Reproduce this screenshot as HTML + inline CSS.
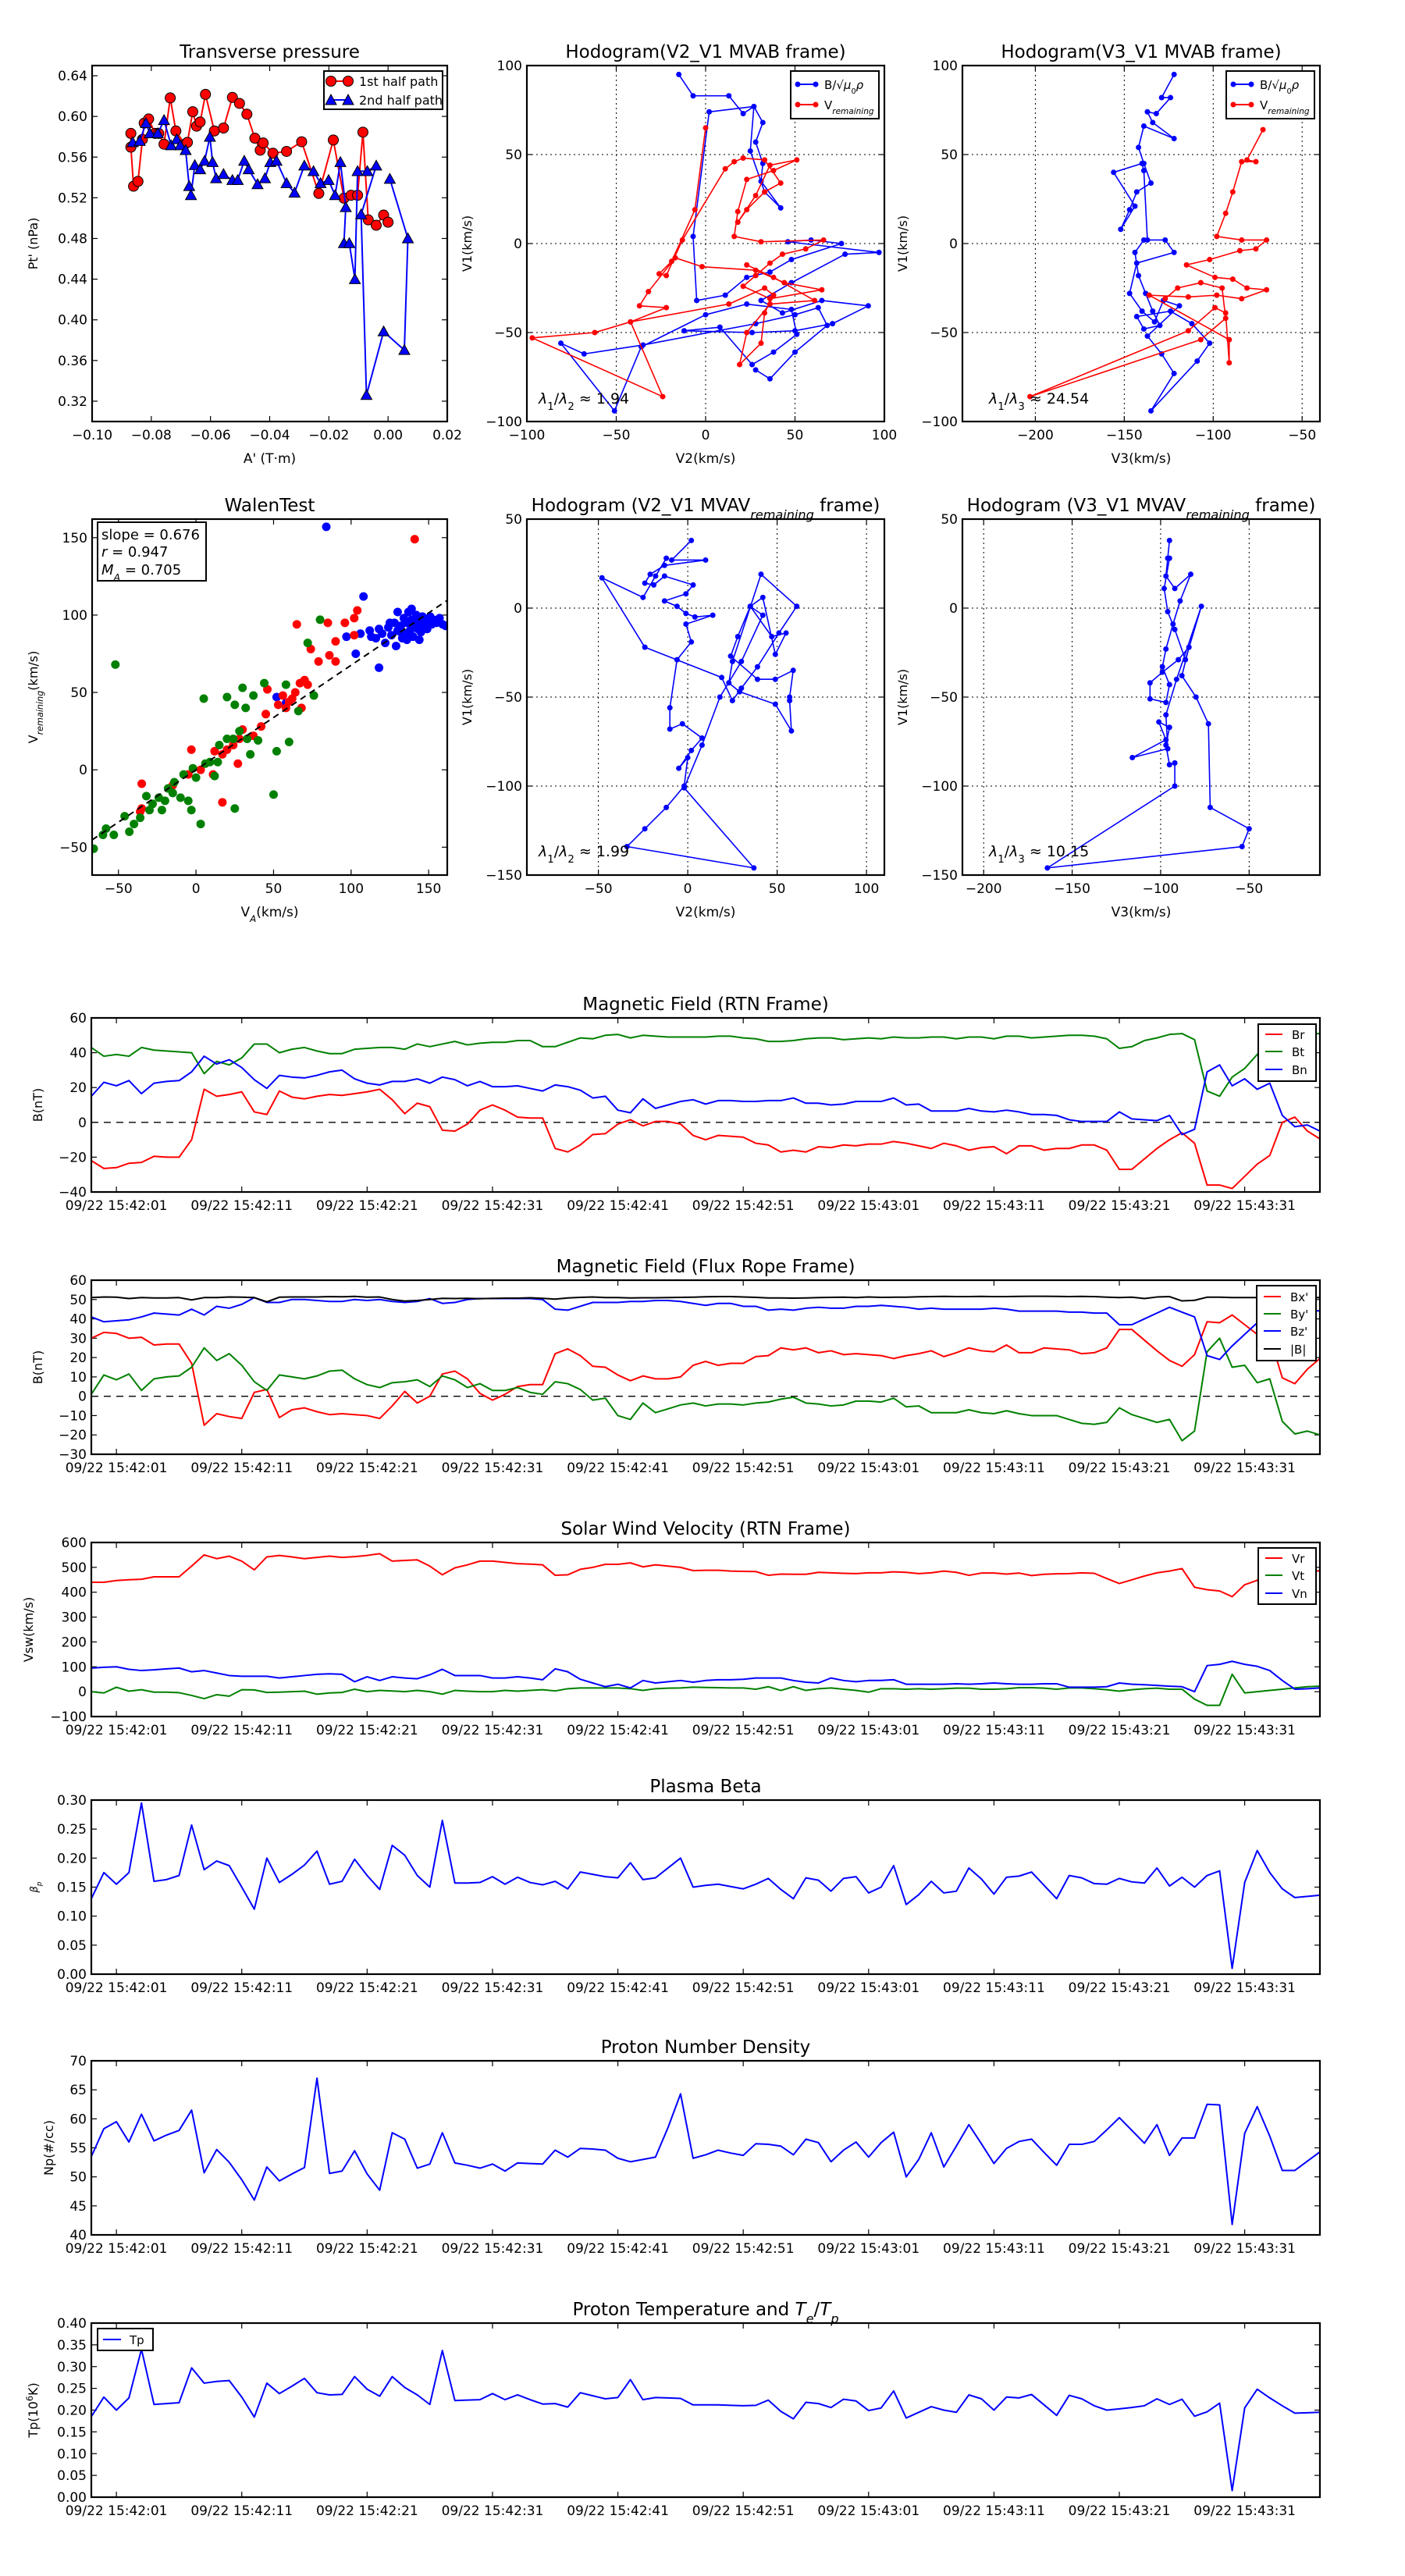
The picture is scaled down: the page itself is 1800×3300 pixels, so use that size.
<!DOCTYPE html>
<html><head><meta charset="utf-8"><style>
html,body{margin:0;padding:0;background:#fff;}
svg{display:block;font-family:"DejaVu Sans","Liberation Sans",sans-serif;}
</style></head><body>
<svg id="fig" xmlns="http://www.w3.org/2000/svg" width="1800" height="3300" viewBox="0 0 1800 3300">
<rect x="0" y="0" width="1800" height="3300" fill="#fff"/>
</svg>
<script>
// ---------- time series data (t in seconds relative to 09/22 15:42:01, -2..96) ----------
const timeTickValues=[0,10,20,30,40,50,60,70,80,90];
const timeTickLabels=["09/22 15:42:01","09/22 15:42:11","09/22 15:42:21","09/22 15:42:31","09/22 15:42:41","09/22 15:42:51","09/22 15:43:01","09/22 15:43:11","09/22 15:43:21","09/22 15:43:31"];
const Br=[-22,-26.5,-26,-23.5,-23,-19.5,-20,-20,-10,19,15,16,17.5,6,4.5,18,14.5,13.5,15,16,15.5,16.5,17.5,19,13,5,11,9,-4.5,-5,-1,7,10,7,3,2.5,2.5,-15,-17,-13,-7,-6.5,-1,1.5,-2,0.5,0.5,-1,-7.5,-10,-7.5,-8,-8.5,-12,-13,-17,-16,-17,-14,-14.5,-13,-13.5,-12.5,-12.5,-11,-12,-13.5,-15,-12,-13.5,-16,-14.5,-14,-18,-13.5,-13.5,-16,-15,-15,-13,-13,-16,-27,-27,-21,-15,-10,-6,-12,-36,-36,-38,-31,-24,-19,0,3,-5,-9.5];
const Bt=[43,38,39,38,43,41.5,41,40.5,40,28,35,33,37,45,45,40,42,43,41,39.5,39.5,42,42.5,43,43,42,45,43.5,45,46.5,44.5,45.5,46,46,47,47,43.5,43.5,46,48.5,48,50,50.5,48.5,50,49.5,49,49,49,49,49.5,49.5,48.5,48,46.5,46.5,47,48,48.5,48.5,47.5,48,48.5,48,49,48.5,48.5,49,49,48,49,49,48,49.5,49.5,48.5,49,49.5,50,50,49.5,48,42.5,43.5,47,48.5,50.5,51,47.5,18,15,26,31,39,46,50,51.5,51,51];
const Bn=[15,23,21,24,16.5,22.5,23.5,24,29,38,33.5,36,31.5,24.5,19.5,27,26,25.5,27,29,30,25,22.5,21.5,23.5,23.5,25,22.5,26,24.5,21,23.5,20.5,20.5,21,19.5,18,21.5,20.5,18.5,14,15,7,5.5,13.5,8,10,12,13,10.5,12.5,12.5,12,12,12.5,12.5,14,11,11,10,10.5,12,12,12,14,10,10.5,6.5,6.5,6.5,8,6.5,6,7,6,4.5,4.5,4,1.5,0.5,0.5,0.5,6,2,1.5,1,4,-7,-4,29,33,21,25,19,22.5,4,-2.5,-1.5,-5];
const Bmag=[51,51.3,51.2,50.5,51,50.8,50.8,51,49.8,51,51,51.3,51.2,51,48.8,51.2,51.3,51.3,51.3,51.5,51.4,51.6,51.2,51.3,50,49.2,49.5,50,50.6,50.5,50.6,50.4,50.6,50.7,50.7,50.9,50.6,50.2,50.8,51.1,51.3,51,51,50.8,50.9,50.9,51,51.1,51.2,51.4,51.5,51.5,51.3,51.1,50.8,50.8,50.7,50.8,51,51.1,51.2,51,51.3,51.1,51.2,51.2,51.4,51.5,51.6,51.5,51.5,51.6,51.5,51.5,51.6,51.7,51.7,51.6,51.5,51.6,51.5,51.2,51,51.2,50.5,51.3,51.5,49.3,49.6,51.2,51.2,51,51,51,51.2,51,51,51,51];
const Bxp=[30,33,32.5,30,30.5,26.5,27,27,17,-15,-9,-10.5,-11.5,2,3.5,-11,-7,-6,-8,-9.5,-9,-9.5,-10,-11.5,-5,2.5,-3.5,0,11.5,13,9,1.5,-2,1,5,6,6,22,24.5,21,15.5,15,11,8,10.5,9,9,10,16,18,16,17,17,20.5,21,25,24,25,22.5,23.5,21.5,22,21.5,21,19.5,21,22,23.5,20.5,22.5,25,23.5,23,26.5,22.5,22.5,25,24.5,24,22,22.5,25,34.5,34.5,29,23.5,18.5,15.5,21.5,38.5,38,42,37,32,31,9.5,6.5,14,19.5];
const Byp=[1,11,8.5,11.5,3,9,10,10.5,15,25,18.5,22,16,7.5,3,11,10,9,10.5,13,13.5,9,6,4.5,7,7.5,8.5,5,10.5,8.5,4.5,6.5,3,3,4.5,2,1,7.5,6.5,3.5,-2,-1,-10,-12,-3.5,-8.5,-6.5,-4.5,-3.5,-5,-4,-4,-4.5,-3.5,-3,-1.5,-0.5,-3.5,-4,-5,-4.5,-2.5,-2.5,-3,-1,-5.5,-5,-8.5,-8.5,-8.5,-7,-8.5,-9,-7.5,-9,-10,-10,-10,-12,-14,-14.5,-13.5,-6,-9.5,-11.5,-13.5,-12,-23,-18,23,30,15,16,7,9,-13,-19.5,-18,-20];
const Bzp=[41,38.5,39,39.5,41,43,42.5,42,45,42,46.5,45.5,47.5,51,48.5,48.5,50,50,49.5,49,49,50,49.5,50,49,48.5,49,50.5,48,48.5,50,50.5,50.5,50.5,50.5,50.5,50,45,44.5,46.5,48.5,48.5,48.5,49,49,49.5,49.5,49,48,47,48,48,46.5,46.5,44.5,45,44.5,45.5,46,45.5,45.5,46.5,46.5,47,46.5,46,45,45.5,45,45,45,45,45.5,45,44,44,44,44,43.5,43.5,43,43,37,37,40,43,46,43.5,41,21,19,26,32,38,44,45,45,45,44];
const Vr=[440,440,447,450,452,462,462,462,505,550,535,545,525,490,542,548,542,535,540,545,540,543,548,555,525,528,530,505,470,498,510,525,525,520,515,513,510,468,470,492,500,512,512,518,502,510,505,500,487,488,488,485,484,483,468,473,472,472,480,478,476,475,478,478,482,480,475,478,485,480,468,477,477,473,477,467,472,474,475,478,476,455,435,450,465,478,485,495,420,410,405,382,430,448,490,492,490,490,485];
const Vt=[0,-5,18,2,8,-2,-2,-4,-15,-28,-12,-18,8,7,-3,-2,0,2,-10,-5,-3,10,0,5,3,0,5,0,-10,5,2,0,0,5,2,5,8,3,12,15,15,15,15,12,5,12,14,15,18,17,16,15,15,10,20,5,20,5,12,15,10,5,-2,12,12,10,12,10,12,14,14,10,10,12,16,16,14,10,15,15,12,8,2,8,12,14,10,10,-30,-55,-55,70,-5,0,5,10,15,20,22];
const Vn=[95,98,100,90,85,88,92,95,80,85,75,65,62,62,62,55,60,65,70,72,70,40,60,45,60,55,52,68,90,65,65,65,55,55,60,55,48,92,80,50,35,20,30,15,45,35,40,45,38,45,48,48,50,55,55,55,45,38,35,55,45,40,45,45,48,30,30,30,30,32,30,32,35,32,30,30,32,32,18,18,18,20,35,30,28,25,22,20,0,105,110,122,110,102,85,45,10,12,15];
const betaP=[0.13,0.175,0.155,0.175,0.295,0.16,0.163,0.17,0.257,0.18,0.195,0.187,0.15,0.112,0.2,0.158,0.172,0.188,0.212,0.155,0.16,0.198,0.17,0.146,0.222,0.205,0.17,0.15,0.265,0.157,0.157,0.158,0.168,0.155,0.167,0.158,0.154,0.16,0.147,0.176,0.172,0.168,0.166,0.192,0.163,0.166,0.183,0.2,0.15,0.153,0.155,0.151,0.147,0.155,0.165,0.146,0.13,0.166,0.162,0.143,0.165,0.168,0.14,0.15,0.187,0.12,0.137,0.16,0.14,0.143,0.183,0.164,0.138,0.167,0.169,0.176,0.153,0.13,0.17,0.166,0.156,0.155,0.165,0.159,0.157,0.183,0.152,0.167,0.15,0.17,0.178,0.01,0.158,0.213,0.175,0.147,0.132,0.134,0.136];
const Np=[53.5,58.3,59.5,56,60.8,56.2,57.2,58,61.5,50.7,54.7,52.5,49.5,46,51.7,49.3,50.5,51.6,67,50.6,51,54.5,50.5,47.7,57.6,56.5,51.5,52.2,57.6,52.4,52,51.5,52.2,51,52.4,52.3,52.2,54.6,53.4,54.9,54.8,54.6,53.2,52.6,53,53.4,58.5,64.3,53.2,53.8,54.6,54.1,53.7,55.7,55.6,55.3,53.8,56.5,55.9,52.6,54.6,56,53.4,55.9,57.7,50,53,57.6,51.7,55.3,59,55.7,52.3,54.9,56.1,56.5,54.2,52,55.6,55.6,56.1,58.1,60.2,58,55.8,59,53.7,56.7,56.7,62.5,62.4,41.8,57.5,62.1,57,51.1,51.1,52.7,54.3];
const Tp=[0.185,0.23,0.2,0.228,0.34,0.213,0.215,0.217,0.297,0.262,0.266,0.268,0.23,0.184,0.262,0.238,0.255,0.273,0.24,0.235,0.236,0.277,0.248,0.232,0.277,0.252,0.235,0.213,0.337,0.222,0.223,0.224,0.238,0.224,0.235,0.224,0.214,0.215,0.207,0.24,0.233,0.226,0.229,0.27,0.224,0.229,0.228,0.227,0.212,0.212,0.212,0.211,0.21,0.211,0.223,0.197,0.18,0.218,0.215,0.206,0.225,0.221,0.199,0.205,0.244,0.182,0.195,0.208,0.2,0.195,0.235,0.226,0.2,0.23,0.228,0.236,0.212,0.188,0.234,0.226,0.21,0.2,0.203,0.206,0.21,0.226,0.213,0.225,0.186,0.196,0.216,0.015,0.205,0.248,0.228,0.21,0.193,0.194,0.195];

// ---------- transverse pressure ----------
const ptRedA=[-0.0869,-0.0869,-0.086,-0.0845,-0.083,-0.0824,-0.0809,-0.0787,-0.0775,-0.0757,-0.0736,-0.0717,-0.0687,-0.0678,-0.066,-0.0647,-0.0635,-0.0617,-0.0587,-0.0556,-0.0526,-0.0502,-0.0477,-0.045,-0.0432,-0.0422,-0.0389,-0.0343,-0.0292,-0.0234,-0.0185,-0.0149,-0.0125,-0.0103,-0.0085,-0.0067,-0.004,-0.0015,0.0];
const ptRedP=[0.5833,0.5698,0.5314,0.5361,0.5774,0.5934,0.5975,0.5833,0.5833,0.5727,0.6182,0.5857,0.5727,0.5745,0.6046,0.5904,0.5945,0.6217,0.5857,0.5886,0.6187,0.6128,0.6022,0.5786,0.5668,0.5739,0.5638,0.5656,0.5751,0.5243,0.5768,0.5196,0.5225,0.5225,0.5845,0.4983,0.493,0.503,0.496];
const ptBlueA=[-0.0863,-0.0839,-0.0818,-0.0805,-0.0778,-0.0757,-0.0733,-0.0714,-0.0702,-0.0684,-0.0672,-0.0666,-0.0653,-0.0635,-0.062,-0.0602,-0.0593,-0.0581,-0.0556,-0.0526,-0.0508,-0.0486,-0.0471,-0.0441,-0.0416,-0.0398,-0.0377,-0.0343,-0.0316,-0.0283,-0.0252,-0.0228,-0.0201,-0.0179,-0.0161,-0.0143,-0.0149,-0.0131,-0.0112,-0.0103,-0.007,-0.004,-0.0091,-0.0073,-0.0015,0.0055,0.0067,0.0006];
const ptBlueP=[0.5745,0.5757,0.5934,0.5833,0.5833,0.5963,0.5715,0.5774,0.5715,0.5668,0.5314,0.5225,0.552,0.5479,0.5562,0.5798,0.555,0.5391,0.5432,0.5373,0.5373,0.5562,0.5479,0.5332,0.5391,0.555,0.5562,0.5343,0.5249,0.5515,0.5461,0.5343,0.5373,0.5225,0.555,0.5107,0.4753,0.4753,0.4399,0.5461,0.5461,0.5515,0.5036,0.326,0.3885,0.3702,0.48,0.5385];

// ---------- hodogram MVAB V2-V1 ----------
const hB2=[-15,-7,13,21,27,32,28,32,31,42,33,25,27,2,-7,-5,11,23,36,48,76,59,46,97,78,48,31,43,65,91,71,50,26,-12,8,26,38,51,48,23,0,-36,-51,-81,-68,-35,28,50,63,68,50,36,28];
const hB1=[95,83,83,73,77,68,57,45,35,20,29,52,77,74,4,-32,-29,-19,-16,-9,0,2,1,-5,-6,-22,-32,-39,-32,-35,-45,-49,-50,-49,-47,-68,-61,-51,-37,-34,-40,-58,-94,-56,-62,-57,-45,-40,-36,-46,-61,-76,-71];
const hV2=[0,-6,-19,-26,-22,-13,11,16,21,33,42,33,23,18,28,36,51,38,23,18,16,31,66,56,43,36,28,21,36,65,44,28,-2,-17,-32,-37,-22,-42,-62,-97,-24,-42,13,33,38,33,31,19,23,36,61,38,23];
const hV1=[65,19,-10,-17,-18,2,42,46,48,47,34,29,19,12,27,44,47,41,36,18,4,1,2,-3,-6,-11,-18,-24,-31,-26,-22,-15,-13,-8,-27,-35,-36,-44,-50,-53,-86,-44,-34,-25,-29,-39,-56,-68,-50,-34,-32,-19,-12];
// ---------- hodogram MVAB V3-V1 ----------
const hB3=[-122,-129,-124,-132,-137,-134,-122,-139,-142,-139,-135,-143,-147,-152,-144,-156,-140,-139,-137,-127,-122,-143,-147,-140,-133,-128,-119,-137,-129,-122,-135,-109,-102,-112,-124,-143,-139,-130,-134,-138,-142,-144,-139];
const hB3v1=[95,82,82,73,74,68,59,66,54,45,34,29,19,8,21,40,45,41,2,2,-5,-11,-28,-38,-44,-32,-35,-52,-62,-73,-94,-66,-56,-45,-38,-41,-48,-46,-38,-28,-18,-5,2];
const hV3=[-72,-81,-76,-84,-89,-93,-98,-84,-70,-76,-85,-102,-115,-99,-89,-81,-70,-84,-98,-114,-136,-91,-91,-93,-99,-114,-203,-107,-93,-95,-107,-120,-127];
const hV3v1=[64,47,46,46,29,17,4,2,2,-3,-4,-9,-12,-19,-20,-25,-26,-31,-29,-30,-29,-54,-67,-39,-36,-49,-86,-54,-42,-25,-22,-25,-31];

// ---------- Walen test ----------
const walenSlope=0.676;
const wBlueVA=[84,108,118,97,103,52,58,106,112,116,120,122,124,126,128,129,130,132,133,134,135,136,137,138,139,140,141,142,143,144,145,146,147,148,149,150,151,152,153,155,157,159,161,130,136,144,125,118,113,139,146,132];
const wBlueV=[157,112,66,86,75,47,43,88,90,85,88,82,92,87,95,80,90,93,85,98,88,95,102,90,97,86,94,100,91,96,89,99,93,97,91,95,99,94,97,95,98,94,93,102,84,84,95,91,86,104,93,89];
const wRedVA=[141,104,102,65,85,90,86,79,74,70,72,67,64,62,60,58,56,68,53,45,42,37,30,28,24,20,27,17,12,11,-3,3,-5,-35,-36,17,-15,-35,46,96,90,102];
const wRedV=[149,103,98,94,95,83,74,70,78,58,55,56,50,46,44,40,48,40,42,36,28,22,26,20,16,13,4,10,12,-3,13,0,-3,-25,-27,-21,-10,-9,52,95,70,87];
const wGreenVA=[-52,80,72,76,58,44,37,30,25,20,5,32,28,33,20,24,15,9,-2,0,6,12,-5,-10,-14,-18,-20,-24,-28,-30,-32,-36,-40,-43,-46,-53,-58,-60,-66,-22,-15,25,50,52,40,35,60,66,-3,14,-8,3];
const wGreenV=[68,97,82,48,55,56,48,53,42,47,46,40,25,20,20,20,16,5,1,-5,4,-4,-20,-18,-8,-12,-20,-18,-22,-26,-17,-31,-35,-40,-30,-42,-38,-42,-51,-26,-15,-25,-16,12,19,10,18,38,-26,5,-3,-35];

// ---------- MVAV remaining ----------
const r2V2=[2,-9,10,-13,-21,-24,-19,-13,3,-1,-13,-6,-1,4,14,-1,2,-6,-10,-10,-3,8,2,-5,0,-2,-12,-24,-34,37,-2,8,18,30,42,35,47,55,49,42,35,28,24,39,49,59,57,57,58,49,29,23,25,41,61,51,39,30,25,19,-24,-48,-25,-18,-12];
const r2V1=[38,27,27,24,19,14,13,18,13,8,4,1,-3,-5,-4,-9,-19,-29,-56,-68,-65,-73,-80,-90,-84,-100,-112,-124,-134,-146,-101,-77,-50,-30,-4,1,-16,-14,-26,6,1,-16,-27,-40,-40,-35,-50,-52,-69,-54,-47,-42,-30,19,1,-14,-33,-45,-52,-39,-22,17,6,18,28];
const r3V3=[-95,-96,-97,-92,-83,-89,-93,-97,-99,-95,-97,-106,-106,-99,-90,-84,-88,-80,-73,-72,-50,-54,-164,-92,-92,-95,-97,-95,-101,-97,-116,-96,-97,-91,-77,-86,-92,-96,-98,-95];
const r3V1=[38,28,18,11,19,4,-9,-23,-33,-43,-53,-51,-42,-36,-29,-22,-38,-50,-65,-112,-124,-134,-146,-100,-87,-88,-77,-67,-64,-74,-84,-79,-60,-40,1,-29,-12,-2,11,28];

// ---------- drawing helpers ----------
const NS='http://www.w3.org/2000/svg';
const svg=document.getElementById('fig');
function mk(tag,attrs,parent){const e=document.createElementNS(NS,tag);for(const k in attrs)e.setAttribute(k,attrs[k]);(parent||svg).appendChild(e);return e;}
function lin(d,r){return v=>r[0]+(v-d[0])/(d[1]-d[0])*(r[1]-r[0]);}
let clipN=0;
function axes(o){
  const g=mk('g',{});
  
  
  const sx=lin(o.xd,[o.x0,o.x1]), sy=lin(o.yd,[o.y1,o.y0]);
  const cid='clip'+(clipN++);
  const cp=mk('clipPath',{id:cid},g);
  mk('rect',{x:o.x0,y:o.y0,width:o.x1-o.x0,height:o.y1-o.y0},cp);
  const grid=mk('g',{stroke:'#000','stroke-width':1,'stroke-dasharray':'2,4'},g);
  
  
  const tk=mk('g',{stroke:'#000','stroke-width':1.2},g);
  
  
  const xl=mk('g',{'font-size':o.tfs||17,'text-anchor':'middle',fill:'#000'},g);
  
  
  o.xticks.forEach((v,i)=>{
    const x=sx(v);
    if(o.grid) mk('line',{x1:x,x2:x,y1:o.y0,y2:o.y1},grid);
    mk('line',{x1:x,x2:x,y1:o.y1,y2:o.y1-7},tk);
    mk('line',{x1:x,x2:x,y1:o.y0,y2:o.y0+7},tk);
    const t=mk('text',{x:x,y:o.y1+23},xl);
    t.textContent=o.xlab?o.xlab[i]:o.xfmt(v);
  });
  const yl=mk('g',{'font-size':o.tfs||17,'text-anchor':'end',fill:'#000'},g);
  
  
  o.yticks.forEach(v=>{
    const y=sy(v);
    if(o.grid) mk('line',{x1:o.x0,x2:o.x1,y1:y,y2:y},grid);
    mk('line',{x1:o.x0,x2:o.x0+7,y1:y,y2:y},tk);
    mk('line',{x1:o.x1,x2:o.x1-7,y1:y,y2:y},tk);
    const t=mk('text',{x:o.x0-6,y:y+6},yl);
    t.textContent=o.yfmt(v);
  });
  const title=mk('text',{x:(o.x0+o.x1)/2,y:o.y0-10,'font-size':23,'text-anchor':'middle'},g);
  
  
  title.innerHTML=o.title;
  if(o.xlabel){
    const xt=mk('text',{x:(o.x0+o.x1)/2,y:o.y1+53,'font-size':17,'text-anchor':'middle'},g);
    
    
    xt.innerHTML=o.xlabel;
  }
  if(o.ylabel){
    const cy=(o.y0+o.y1)/2;
    const yt=mk('text',{x:o.ylx,y:cy,'font-size':o.ylfs||16,'text-anchor':'middle',transform:`rotate(-90 ${o.ylx} ${cy})`},g);
    
    
    yt.innerHTML=o.ylabel;
  }
  const plot=mk('g',{'clip-path':`url(#${cid})`},g);
  
  
  function finish(){
    const fr=mk('rect',{x:o.x0,y:o.y0,width:o.x1-o.x0,height:o.y1-o.y0,fill:'none',stroke:'#000','stroke-width':2.2},g);
    
    
  }
  return {sx,sy,g,plot,finish};
}
function poly(ax,xs,ys,color,w,name){
  let d='';for(let i=0;i<xs.length;i++)d+=(i?'L':'M')+ax.sx(xs[i]).toFixed(2)+','+ax.sy(ys[i]).toFixed(2);
  const p=mk('path',{d:d,fill:'none',stroke:color,'stroke-width':w,'stroke-linejoin':'round'},ax.plot);
  
  
  return p;
}
function dots(ax,xs,ys,color,r,name,stroke){
  const g=mk('g',{fill:color,stroke:stroke||'none','stroke-width':1},ax.plot);
  
  
  for(let i=0;i<xs.length;i++){
    const c=mk('circle',{cx:ax.sx(xs[i]),cy:ax.sy(ys[i]),r:r},g);
    
    
  }
}
function tris(ax,xs,ys,color,s,name){
  const g=mk('g',{fill:color,stroke:'#000','stroke-width':1},ax.plot);
  
  
  for(let i=0;i<xs.length;i++){
    const x=ax.sx(xs[i]),y=ax.sy(ys[i]);
    const t=mk('polygon',{points:`${x},${y-s} ${x-s},${y+s*0.8} ${x+s},${y+s*0.8}`},g);
    
    
  }
}
function legend(name,x,y,w,h,entries,lx1,lx2,tx){
  const g=mk('g',{});
  
  
  mk('rect',{x:x,y:y,width:w,height:h,fill:'#fff',stroke:'#000','stroke-width':2},g);
  entries.forEach(e=>{
    const eg=mk('g',{},g);
    
    
    mk('line',{x1:lx1,x2:lx2,y1:e.y,y2:e.y,stroke:e.c,'stroke-width':2},eg);
    if(e.m==='o'){mk('circle',{cx:lx1,cy:e.y,r:e.r,fill:e.c,stroke:e.s||'none'},eg);mk('circle',{cx:lx2,cy:e.y,r:e.r,fill:e.c,stroke:e.s||'none'},eg);}
    if(e.m==='^'){[lx1,lx2].forEach(px=>mk('polygon',{points:`${px},${e.y-7} ${px-7},${e.y+6} ${px+7},${e.y+6}`,fill:e.c,stroke:'#000'},eg));}
    const t=mk('text',{x:tx,y:e.y+6,'font-size':e.fs||16},eg);
    t.innerHTML=e.t;
  });
}
const f2=v=>v.toFixed(2), f0=v=>String(v);
function fmtNeg(v){return (v<0?'\u2212':'')+Math.abs(v);}
function fmtNeg2(v){return (v<0?'\u2212':'')+Math.abs(v).toFixed(2);}

// ---------- Transverse pressure ----------
(function(){
  const ax=axes({name:'transverse-pressure-chart',x0:118,x1:573,y0:84,y1:540,xd:[-0.10,0.02],yd:[0.30,0.65],
    xticks:[-0.10,-0.08,-0.06,-0.04,-0.02,0.00,0.02],yticks:[0.32,0.36,0.40,0.44,0.48,0.52,0.56,0.60,0.64],
    xfmt:fmtNeg2,yfmt:f2,title:'Transverse pressure',xlabel:"A' (T\u00b7m)",ylabel:"Pt' (nPa)",ylx:48});
  poly(ax,ptRedA,ptRedP,'#ff0000',2,'first-half-path-line');
  dots(ax,ptRedA,ptRedP,'#ff0000',6.5,'first-half-path-markers','#000');
  poly(ax,ptBlueA,ptBlueP,'#0000ff',2,'second-half-path-line');
  tris(ax,ptBlueA,ptBlueP,'#0000ff',7,'second-half-path-markers');
  ax.finish();
  legend('pressure-legend',415,91,152,49,[{y:104,c:'#ff0000',m:'o',r:6.5,s:'#000',t:'1st half path'},{y:128,c:'#0000ff',m:'^',t:'2nd half path'}],424,446,460);
})();

const sub=(a,b)=>`${a}<tspan baseline-shift="sub" font-size="70%" font-style="italic">${b}</tspan>`;
const lamb=(k,v)=>`<tspan font-style="italic">\u03bb</tspan><tspan baseline-shift="sub" font-size="70%">1</tspan>/<tspan font-style="italic">\u03bb</tspan><tspan baseline-shift="sub" font-size="70%">${k}</tspan> \u2248 ${v}`;
function annot(x,y,html,name){const t=mk('text',{x:x,y:y,'font-size':19});t.innerHTML=html;}
const bLeg='B/\u221a<tspan font-style="italic">\u03bc</tspan><tspan baseline-shift="sub" font-size="65%">0</tspan><tspan font-style="italic">\u03c1</tspan>';
const vLeg=sub('V','remaining');

// ---------- Hodogram V2-V1 MVAB ----------
(function(){
  const ax=axes({name:'hodogram-v2-v1-mvab-chart',x0:675,x1:1133,y0:84,y1:540,xd:[-100,100],yd:[-100,100],grid:true,
    xticks:[-100,-50,0,50,100],yticks:[-100,-50,0,50,100],xfmt:fmtNeg,yfmt:fmtNeg,
    title:'Hodogram(V2_V1 MVAB frame)',xlabel:'V2(km/s)',ylabel:'V1(km/s)',ylx:604});
  poly(ax,hB2,hB1,'#0000ff',1.6,'b-hodogram-line');
  dots(ax,hB2,hB1,'#0000ff',3.5,'b-hodogram-markers');
  poly(ax,hV2,hV1,'#ff0000',1.6,'v-remaining-hodogram-line');
  dots(ax,hV2,hV1,'#ff0000',3.5,'v-remaining-hodogram-markers');
  ax.finish();
  legend('hodogram-v2-legend',1013,91,113,61,[{y:108,c:'#0000ff',m:'o',r:3.5,t:bLeg,fs:15},{y:134,c:'#ff0000',m:'o',r:3.5,t:vLeg,fs:15}],1022,1045,1056);
  annot(690,517,lamb(2,'1.94'),'eigenvalue-ratio-label');
})();
// ---------- Hodogram V3-V1 MVAB ----------
(function(){
  const ax=axes({name:'hodogram-v3-v1-mvab-chart',x0:1233,x1:1691,y0:84,y1:540,xd:[-241,-40],yd:[-100,100],grid:true,
    xticks:[-200,-150,-100,-50],yticks:[-100,-50,0,50,100],xfmt:fmtNeg,yfmt:fmtNeg,
    title:'Hodogram(V3_V1 MVAB frame)',xlabel:'V3(km/s)',ylabel:'V1(km/s)',ylx:1162});
  poly(ax,hB3,hB3v1,'#0000ff',1.6,'b-hodogram-line');
  dots(ax,hB3,hB3v1,'#0000ff',3.5,'b-hodogram-markers');
  poly(ax,hV3,hV3v1,'#ff0000',1.6,'v-remaining-hodogram-line');
  dots(ax,hV3,hV3v1,'#ff0000',3.5,'v-remaining-hodogram-markers');
  ax.finish();
  legend('hodogram-v3-legend',1571,91,113,61,[{y:108,c:'#0000ff',m:'o',r:3.5,t:bLeg,fs:15},{y:134,c:'#ff0000',m:'o',r:3.5,t:vLeg,fs:15}],1580,1603,1614);
  annot(1267,517,lamb(3,'24.54'),'eigenvalue-ratio-label');
})();
// ---------- Walen test ----------
(function(){
  const ax=axes({name:'walen-test-chart',x0:118,x1:573,y0:665,y1:1121,xd:[-67,162],yd:[-68,162],
    xticks:[-50,0,50,100,150],yticks:[-50,0,50,100,150],xfmt:fmtNeg,yfmt:fmtNeg,
    title:'WalenTest',xlabel:sub('V','A')+'(km/s)',ylabel:sub('V','remaining')+'(km/s)',ylx:48});
  dots(ax,wBlueVA,wBlueV,'#0000ff',5.5,'blue-scatter');
  dots(ax,wRedVA,wRedV,'#ff0000',5.5,'red-scatter');
  dots(ax,wGreenVA,wGreenV,'#008000',5.5,'green-scatter');
  const fx=[-67,162];
  const fl=poly(ax,fx,fx.map(v=>v*walenSlope),'#000',2,'fit-line');
  fl.setAttribute('stroke-dasharray','8,6');
  ax.finish();
  const g=mk('g',{});
  
  
  mk('rect',{x:125,y:669,width:139,height:75,fill:'#fff',stroke:'#000','stroke-width':2},g);
  const t1=mk('text',{x:130,y:691,'font-size':18},g);t1.textContent='slope = 0.676';
  const t2=mk('text',{x:130,y:713,'font-size':18},g);t2.innerHTML='<tspan font-style="italic">r</tspan> = 0.947';
  const t3=mk('text',{x:130,y:736,'font-size':18},g);t3.innerHTML='<tspan font-style="italic">M</tspan><tspan baseline-shift="sub" font-size="70%" font-style="italic">A</tspan> = 0.705';
})();
// ---------- MVAV V2-V1 ----------
(function(){
  const ax=axes({name:'hodogram-v2-v1-mvav-chart',x0:675,x1:1133,y0:665,y1:1121,xd:[-90,110],yd:[-150,50],grid:true,
    xticks:[-50,0,50,100],yticks:[-150,-100,-50,0,50],xfmt:fmtNeg,yfmt:fmtNeg,
    title:'Hodogram (V2_V1 MVAV'+'<tspan baseline-shift="sub" font-size="70%" font-style="italic">remaining</tspan> frame)',xlabel:'V2(km/s)',ylabel:'V1(km/s)',ylx:604});
  poly(ax,r2V2,r2V1,'#0000ff',1.6,'b-hodogram-line');
  dots(ax,r2V2,r2V1,'#0000ff',3.5,'b-hodogram-markers');
  ax.finish();
  annot(690,1097,lamb(2,'1.99'),'eigenvalue-ratio-label');
})();
// ---------- MVAV V3-V1 ----------
(function(){
  const ax=axes({name:'hodogram-v3-v1-mvav-chart',x0:1233,x1:1691,y0:665,y1:1121,xd:[-212,-10],yd:[-150,50],grid:true,
    xticks:[-200,-150,-100,-50],yticks:[-150,-100,-50,0,50],xfmt:fmtNeg,yfmt:fmtNeg,
    title:'Hodogram (V3_V1 MVAV'+'<tspan baseline-shift="sub" font-size="70%" font-style="italic">remaining</tspan> frame)',xlabel:'V3(km/s)',ylabel:'V1(km/s)',ylx:1162});
  poly(ax,r3V3,r3V1,'#0000ff',1.6,'b-hodogram-line');
  dots(ax,r3V3,r3V1,'#0000ff',3.5,'b-hodogram-markers');
  ax.finish();
  annot(1267,1097,lamb(3,'10.15'),'eigenvalue-ratio-label');
})();

// ---------- Time series ----------
const tSec=Br.map((_,i)=>i-2);
function tsAxes(name,y0,y1,yd,yticks,yfmt,title,ylabel,ylx,ylfs){
  return axes({name:name,x0:117,x1:1691,y0:y0,y1:y1,xd:[-2,96],yd:yd,xticks:timeTickValues,xlab:timeTickLabels,
    yticks:yticks,yfmt:yfmt,title:title,ylabel:ylabel,ylx:ylx,ylfs:ylfs});
}
function zeroLine(ax){const p=poly(ax,[-2,96],[0,0],'#000',1.3,'zero-line');p.setAttribute('stroke-dasharray','9,7');}
(function(){
  const ax=tsAxes('magnetic-field-rtn-chart',1304,1527,[-40,60],[-40,-20,0,20,40,60],fmtNeg,'Magnetic Field (RTN Frame)','B(nT)',54);
  zeroLine(ax);
  poly(ax,tSec,Br,'#ff0000',2,'br-line');
  poly(ax,tSec,Bt,'#008000',2,'bt-line');
  poly(ax,tSec,Bn,'#0000ff',2,'bn-line');
  ax.finish();
  legend('rtn-b-legend',1612,1312,74,73,[{y:1325,c:'#ff0000',t:'Br',fs:15},{y:1347,c:'#008000',t:'Bt',fs:15},{y:1370,c:'#0000ff',t:'Bn',fs:15}],1621,1643,1655);
})();
(function(){
  const ax=tsAxes('magnetic-field-flux-rope-chart',1640,1863,[-30,60],[-30,-20,-10,0,10,20,30,40,50,60],fmtNeg,'Magnetic Field (Flux Rope Frame)','B(nT)',54);
  zeroLine(ax);
  poly(ax,tSec,Bxp,'#ff0000',2,'bx-prime-line');
  poly(ax,tSec,Byp,'#008000',2,'by-prime-line');
  poly(ax,tSec,Bzp,'#0000ff',2,'bz-prime-line');
  poly(ax,tSec,Bmag,'#000',2,'b-magnitude-line');
  ax.finish();
  legend('flux-rope-b-legend',1610,1647,76,96,[{y:1661,c:'#ff0000',t:"Bx'",fs:15},{y:1683,c:'#008000',t:"By'",fs:15},{y:1705,c:'#0000ff',t:"Bz'",fs:15},{y:1728,c:'#000',t:'|B|',fs:15}],1619,1641,1653);
})();
(function(){
  const ax=tsAxes('solar-wind-velocity-chart',1976,2199,[-100,600],[-100,0,100,200,300,400,500,600],fmtNeg,'Solar Wind Velocity (RTN Frame)','Vsw(km/s)',42);
  poly(ax,tSec,Vr,'#ff0000',2,'vr-line');
  poly(ax,tSec,Vt,'#008000',2,'vt-line');
  poly(ax,tSec,Vn,'#0000ff',2,'vn-line');
  ax.finish();
  legend('velocity-legend',1612,1983,74,72,[{y:1996,c:'#ff0000',t:'Vr',fs:15},{y:2018,c:'#008000',t:'Vt',fs:15},{y:2041,c:'#0000ff',t:'Vn',fs:15}],1621,1643,1655);
})();
(function(){
  const ax=tsAxes('plasma-beta-chart',2306,2529,[0,0.30],[0,0.05,0.10,0.15,0.20,0.25,0.30],f2,'Plasma Beta',sub('<tspan font-style="italic">\u03b2</tspan>','p'),48,13);
  poly(ax,tSec,betaP,'#0000ff',2,'beta-line');
  ax.finish();
})();
(function(){
  const ax=tsAxes('proton-density-chart',2640,2863,[40,70],[40,45,50,55,60,65,70],f0,'Proton Number Density','Np(#/cc)',68);
  poly(ax,tSec,Np,'#0000ff',2,'np-line');
  ax.finish();
})();
(function(){
  const ax=tsAxes('proton-temperature-chart',2976,3199,[0,0.40],[0,0.05,0.10,0.15,0.20,0.25,0.30,0.35,0.40],f2,
    'Proton Temperature and <tspan font-style="italic">T</tspan><tspan baseline-shift="sub" font-size="70%" font-style="italic">e</tspan>/<tspan font-style="italic">T</tspan><tspan baseline-shift="sub" font-size="70%" font-style="italic">p</tspan>',
    'Tp(10<tspan baseline-shift="super" font-size="70%">6</tspan>K)',48);
  poly(ax,tSec,Tp,'#0000ff',2,'tp-line');
  ax.finish();
  legend('tp-legend',125,2983,71,28,[{y:2997,c:'#0000ff',t:'Tp',fs:15}],132,155,166);
})();
</script>
</body></html>
